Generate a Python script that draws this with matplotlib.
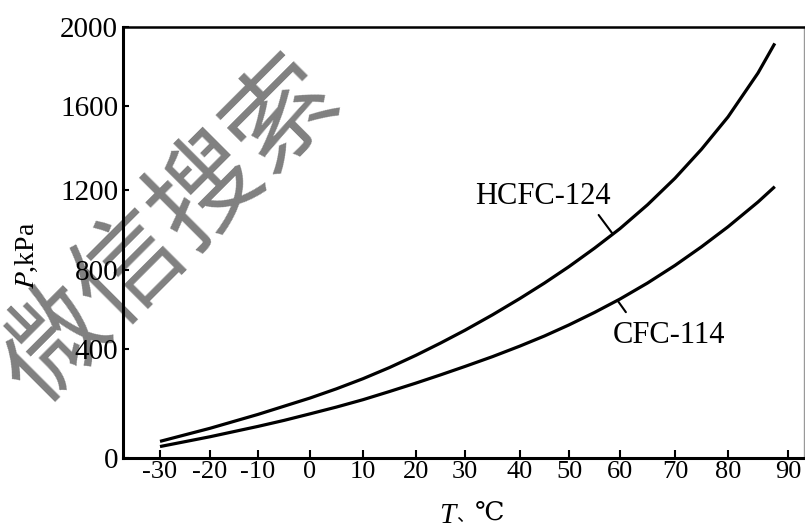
import numpy as np
import matplotlib
matplotlib.use('Agg')
import matplotlib.pyplot as plt

# saturation pressure (kPa) of the two refrigerants against temperature (C)
temp = [-30, -20, -10, -5, 0, 5, 10, 15, 20, 25, 30, 35, 40, 45, 50, 55,
        60, 65, 70, 75, 80, 85, 87.8]
p_hcfc124 = [61, 109, 160, 190, 220, 254, 291, 332, 377, 430, 495, 573, 656, 734,
             817, 909, 1007, 1126, 1256, 1394, 1548, 1767, 1917]
p_cfc114 = [42, 78, 116, 138, 162, 187, 214, 244, 275, 305, 336, 372, 415, 466,
            522, 585, 653, 734, 823, 916, 1016, 1140, 1216]

x_ticks = [-30, -20, -10, 0, 10, 20, 30, 40, 50, 60, 70, 80, 90]
x_labels = ['-30', '-20', '-10', '0', '10', '20', '30', '40', '50', '60', '70', '80', '90']
y_ticks = [0, 400, 800, 1200, 1600, 2000]
y_labels = ['0', '400', '800', '1200', '1600', '2000']

# the printed tick spacing is uneven, so both axes go through anchor points
x_anchor = [-37.4, -30, -20, -10, 0, 10, 20, 30, 40, 50, 60, 70, 80, 90, 92.8]
x_anchor_pos = [0, 37, 87, 135, 187, 240, 293, 342, 397, 446, 497, 552, 605, 665, 681]
y_anchor = [0, 400, 800, 1200, 1600, 2000]
y_anchor_pos = [0, 109, 188, 268, 352, 431]


def anchored(vals, pos):
    return (lambda v: np.interp(v, vals, pos), lambda p: np.interp(p, pos, vals))


plt.rcParams['font.family'] = ['Liberation Serif', 'DejaVu Serif', 'Noto Sans CJK SC']
plt.rcParams['mathtext.fontset'] = 'stix'

W, H = 805, 530
fig = plt.figure(figsize=(W / 100, H / 100), dpi=100, facecolor='white')
ax = fig.add_axes([123 / W, 72 / H, 681 / W, 431 / H])
ax.patch.set_facecolor('none')

ax.set_xscale('function', functions=anchored(x_anchor, x_anchor_pos))
ax.set_yscale('function', functions=anchored(y_anchor, y_anchor_pos))

ax.plot(temp, p_hcfc124, color='black', lw=2.3, solid_capstyle='butt')
ax.plot(temp, p_cfc114, color='black', lw=2.3, solid_capstyle='butt')

ax.set_xlim(-37.4, 92.8)
ax.set_ylim(0, 2000)
ax.set_xticks(x_ticks)
ax.set_xticklabels(x_labels, fontsize=19)
ax.set_yticks(y_ticks)
ax.set_yticklabels(y_labels, fontsize=21)
ax.xaxis.set_minor_locator(matplotlib.ticker.NullLocator())
ax.yaxis.set_minor_locator(matplotlib.ticker.NullLocator())
ax.tick_params(axis='x', direction='in', length=6, width=1.5, pad=2.5)
ax.tick_params(axis='y', direction='in', length=4, width=1.5, pad=3.5)

for side in ['left', 'bottom']:
    ax.spines[side].set_linewidth(2.2)
ax.spines['top'].set_linewidth(1.8)
ax.spines['right'].set_linewidth(1.0)
ax.spines['right'].set_color('#999999')

# curve labels with short leader lines
t_a = 58.6
ax.annotate('HCFC-124', xy=(t_a, np.interp(t_a, temp, p_hcfc124)),
            xytext=(-50, 27), textcoords='offset points',
            ha='center', va='center', fontsize=22,
            arrowprops=dict(arrowstyle='-', color='black', lw=1.5,
                            relpos=(0.87, 0.1), shrinkA=1, shrinkB=0))
t_b = 59.5
ax.annotate('CFC-114', xy=(t_b, np.interp(t_b, temp, p_cfc114)),
            xytext=(37, -25), textcoords='offset points',
            ha='center', va='center', fontsize=22,
            arrowprops=dict(arrowstyle='-', color='black', lw=1.5,
                            relpos=(0.19, 0.9), shrinkA=5, shrinkB=0))

# axis titles
fig.text(27 / W, 1 - 255 / H, '$P$,kPa', rotation=90, ha='center', va='center', fontsize=20)
fig.text(455 / W, 1 - 503 / H, 'T', style='italic', ha='right', va='top', fontsize=21)
fig.text(456 / W, 1 - 507 / H, '、', ha='left', va='top', fontsize=13,
         family='Noto Sans CJK SC')
fig.text(475 / W, 1 - 503 / H, '℃', ha='left', va='top', fontsize=19)

# watermark behind the plot
fig.text(169 / W, 1 - 231 / H, '微信搜索', rotation=45, rotation_mode='anchor',
         ha='center', va='center', fontsize=78, color='#808080',
         family='Noto Sans CJK SC', zorder=-1)

fig.savefig('out.png', dpi=100)
